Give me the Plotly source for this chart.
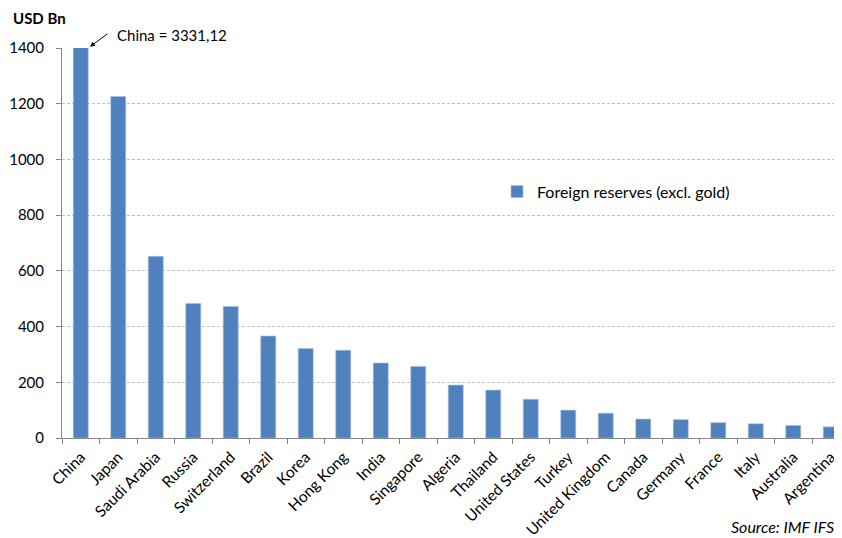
import plotly.graph_objects as go

countries = ["China", "Japan", "Saudi Arabia", "Russia", "Switzerland", "Brazil", "Korea",
             "Hong Kong", "India", "Singapore", "Algeria", "Thailand", "United States", "Turkey",
             "United Kingdom", "Canada", "Germany", "France", "Italy", "Australia", "Argentina"]
reserves = [3331.12, 1226, 652, 483, 472, 366, 321, 315, 269, 257, 190, 172, 139, 100,
            89, 68, 66, 55, 51, 45, 40]
y_ticks = [0, 200, 400, 600, 800, 1000, 1200, 1400]

FONT = "Lato"
BLUE = "#4F81BD"

# the page body adds an 8px offset; the figure is sized to fill the rest of the window
fig = go.Figure()
fig.add_trace(go.Bar(
    x=countries, y=reserves, name="Foreign reserves (excl. gold)",
    marker=dict(color=BLUE, line=dict(color="#A9C0DE", width=0.6)),
    showlegend=True,
))

fig.update_layout(
    width=834, height=530,
    margin=dict(l=54, r=0, t=40, b=100),
    plot_bgcolor="white", paper_bgcolor="white",
    font=dict(family=FONT, size=14, color="#000000"),
    bargap=0.6,
    showlegend=True,
    legend=dict(x=(497 - 62) / 780, y=(438.3 - 192) / 390, xanchor="left", yanchor="middle",
                bgcolor="rgba(0,0,0,0)", font=dict(family=FONT, size=16),
                itemwidth=30),
    xaxis=dict(
        type="category", range=[-0.5, 20.3], automargin=False,
        tickangle=-45, tickfont=dict(family=FONT, size=15.5), ticklabelstandoff=3,
        showline=True, linecolor="#868686", linewidth=1,
        ticks="outside", tickson="boundaries", ticklen=5, tickcolor="#868686",
        showgrid=False,
    ),
    yaxis=dict(
        range=[0, 1400], tickvals=y_ticks, automargin=False,
        tickfont=dict(family=FONT, size=15), ticklabelstandoff=9,
        showline=True, linecolor="#868686", linewidth=1,
        ticks="outside", ticklen=5, tickcolor="#868686",
        showgrid=True, gridcolor="#C4C4C4", griddash="3px,2px", gridwidth=1,
        zeroline=False,
    ),
    annotations=[
        dict(text="<b>USD Bn</b>", xref="paper", yref="paper",
             x=(11 - 62) / 780, y=(438.3 - 18) / 390, xanchor="left", yanchor="middle",
             showarrow=False, font=dict(family=FONT, size=15)),
        dict(text="China = 3331,12", xref="paper", yref="paper",
             x=(115 - 62) / 780, y=(438.3 - 35) / 390, xanchor="left", yanchor="middle",
             showarrow=False, font=dict(family=FONT, size=15)),
        dict(text="", xref="paper", yref="paper",
             x=(90 - 62) / 780, y=(438.3 - 47) / 390,
             showarrow=True, ax=19, ay=-14, arrowhead=2, arrowsize=1, arrowwidth=1,
             arrowcolor="#000000"),
        dict(text="<i>Source: IMF IFS</i>", xref="paper", yref="paper",
             x=(836 - 62) / 780, y=(438.3 - 527) / 390, xanchor="right", yanchor="middle",
             showarrow=False, font=dict(family=FONT, size=16)),
    ],
)

fig.write_html("out.html")
